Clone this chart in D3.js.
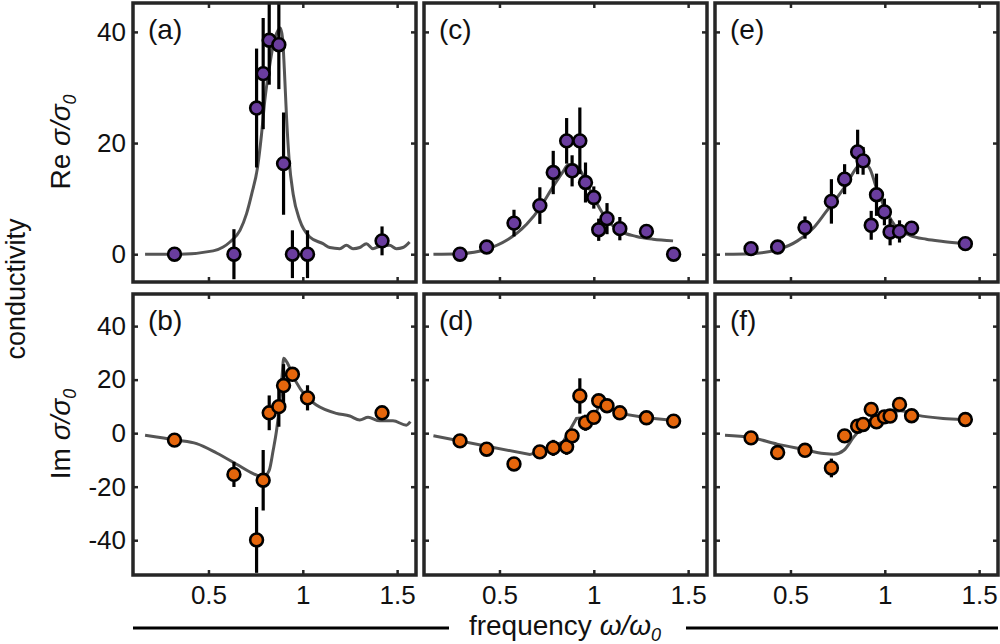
<!DOCTYPE html>
<html>
<head>
<meta charset="utf-8">
<script src="https://cdn.jsdelivr.net/npm/d3@7"></script>
<style>
  body { margin: 0; background: #fff; }
  svg { display: block; font-family: "Liberation Sans", Arial, sans-serif; }
  .tick text { font-size: 26px; fill: #111; }
  .tick line { stroke: #262626; stroke-width: 2.5; }
</style>
</head>
<body>
<div id="chart"></div>
<script>
// x axis (shared by all panels)
const xDomain = [0.1, 1.6];
const xTicks = [0.5, 1, 1.5];
const reDomain = [-5, 45.2];
const reTicks = [0, 20, 40];
const imDomain = [-53, 52];
const imTicks = [-40, -20, 0, 20, 40];

// measured points, panels (a) and (b)
const freqAB = [0.32, 0.635, 0.755, 0.79, 0.822, 0.873, 0.898, 0.945, 1.025, 1.42];
const reA = [0, 0, 26.3, 32.5, 38.5, 37.7, 16.3, 0, 0, 2.4];
const reErrA = [0, 4.5, 10.7, 10, 8, 8, 9.2, 4.3, 4.3, 2.6];
const imB = [-2.6, -15.4, -39.9, -17.6, 7.6, 9.9, 17.8, 22, 13.2, 7.6];
const imErrB = [0, 4.7, 12.3, 11.3, 6.5, 7.5, 8, 2, 4.7, 0];

// measured points, panels (c) and (d)
const freqCD = [0.291, 0.432, 0.577, 0.714, 0.785, 0.856, 0.885, 0.926, 0.956, 1.0, 1.026, 1.07, 1.138, 1.279, 1.423];
const reC = [0, 1.3, 5.6, 8.75, 14.7, 20.4, 15, 20.4, 12.9, 10.2, 4.4, 6.4, 4.6, 4.1, 0];
const reErrC = [0, 0, 2.4, 3.3, 3.9, 4.1, 2.8, 6, 3.6, 2, 2, 2.8, 2.1, 0, 0];
const imD = [-2.9, -6, -11.5, -7, -5.5, -5.1, -1, 13.9, 3.9, 5.9, 12.1, 10.25, 7.6, 5.75, 4.5];
const imErrD = [0, 0, 0, 2, 3, 3, 0, 6.6, 3, 0, 0, 0, 0, 0, 0];

// measured points, panels (e) and (f)
const freqEF = [0.291, 0.432, 0.577, 0.717, 0.787, 0.856, 0.885, 0.928, 0.956, 0.998, 1.028, 1.078, 1.142, 1.427];
const reE = [1, 1.3, 4.8, 9.5, 13.5, 18.4, 16.8, 5.2, 10.7, 7.6, 4, 4.1, 4.7, 1.9];
const reErrE = [0, 0, 2, 4, 2.7, 4, 2.5, 2.6, 3.8, 2.4, 2.4, 2, 0, 0];
const imF = [-1.75, -7.25, -6.4, -13, -1, 2.6, 3.25, 8.9, 4.25, 6.1, 6.4, 10.75, 6.5, 5.1];
const imErrF = [0, 0, 0, 3.5, 0, 1.5, 0, 0, 2, 0, 0, 0, 0, 0];

// model curves
const fitFreqA = [0.164, 0.349, 0.525, 0.578, 0.614, 0.667, 0.702, 0.729, 0.76, 0.781, 0.798, 0.822, 0.843, 0.869, 0.881, 0.893, 0.902, 0.914, 0.928, 0.949, 0.984, 1.037, 1.107, 1.143, 1.196, 1.231, 1.266, 1.302, 1.337, 1.372, 1.407, 1.46, 1.496, 1.531, 1.566];
const fitReA = [0, 0, 0.6, 1.3, 2.2, 4.3, 7.3, 10.8, 15.6, 21.5, 27.5, 33.4, 37.6, 40.3, 40.7, 38.8, 33.4, 24.5, 16.8, 10.8, 6.1, 3.1, 1.9, 1.2, 1.0, 1.6, 1.0, 1.2, 1.9, 1.0, 1.4, 1.6, 1.0, 1.2, 2.2];
const fitFreqB = [0.164, 0.332, 0.437, 0.543, 0.649, 0.737, 0.79, 0.822, 0.843, 0.861, 0.878, 0.89, 0.899, 0.914, 0.958, 1.019, 1.072, 1.178, 1.249, 1.302, 1.346, 1.407, 1.478, 1.549, 1.57];
const fitImB = [-0.75, -2.6, -3.9, -7.4, -11.6, -15.1, -16.4, -13.9, -6.4, 1.1, 11.1, 21.1, 28, 26.7, 19.9, 13.6, 10.5, 7.4, 6.4, 4.9, 5.9, 4.6, 4.6, 3.0, 4.3];
const fitFreqC = [0.15, 0.291, 0.432, 0.538, 0.644, 0.714, 0.785, 0.838, 0.864, 0.891, 0.926, 0.962, 1.014, 1.067, 1.138, 1.226, 1.314, 1.42];
const fitReC = [0, 0.1, 0.9, 2.5, 5.4, 8.3, 12.2, 14.9, 16.1, 16.2, 15.2, 12.8, 9.3, 6.3, 4.2, 3.2, 2.7, 2.4];
const fitFreqD = [0.15, 0.661, 0.714, 0.838, 0.908, 1.0, 1.035, 1.07, 1.138, 1.279, 1.4];
const fitImD = [-1, -8, -6.75, -3.25, 5.5, 6.1, 11.1, 9.9, 7.4, 5.75, 4.9];
const fitFreqE = [0.153, 0.289, 0.43, 0.537, 0.624, 0.69, 0.79, 0.857, 0.884, 0.919, 0.956, 1.009, 1.062, 1.133, 1.22, 1.309, 1.423];
const fitReE = [0, 0.1, 0.8, 2.4, 4.8, 7.7, 12.2, 15.8, 16.4, 15.5, 11.9, 7.7, 4.8, 3.4, 2.7, 2.3, 1.9];
const fitFreqF = [0.153, 0.289, 0.43, 0.571, 0.677, 0.73, 0.783, 0.836, 0.889, 0.959, 1.03, 1.083, 1.171, 1.309, 1.415];
const fitImF = [-0.75, -1.6, -4.1, -6.1, -7.6, -7.9, -6.4, -1.4, 2.6, 5.5, 7.75, 8.4, 6.75, 5.5, 5.1];

const purple = "#6a3d9e";
const orange = "#e5660c";

const panels = [
  {label: "(a)", col: 0, row: 0, freq: freqAB, val: reA, err: reErrA, fx: fitFreqA, fy: fitReA, color: purple},
  {label: "(b)", col: 0, row: 1, freq: freqAB, val: imB, err: imErrB, fx: fitFreqB, fy: fitImB, color: orange},
  {label: "(c)", col: 1, row: 0, freq: freqCD, val: reC, err: reErrC, fx: fitFreqC, fy: fitReC, color: purple},
  {label: "(d)", col: 1, row: 1, freq: freqCD, val: imD, err: imErrD, fx: fitFreqD, fy: fitImD, color: orange, linear: true},
  {label: "(e)", col: 2, row: 0, freq: freqEF, val: reE, err: reErrE, fx: fitFreqE, fy: fitReE, color: purple},
  {label: "(f)", col: 2, row: 1, freq: freqEF, val: imF, err: imErrF, fx: fitFreqF, fy: fitImF, color: orange}
];

const width = 1000, height = 644;
const colX = [133, 424, 715];
const panelW = 283;
const rowY = [3, 294];
const rowH = [279, 281];

const svg = d3.select("#chart").append("svg")
  .attr("width", width)
  .attr("height", height);

panels.forEach((p, i) => {
  const x0 = colX[p.col], y0 = rowY[p.row];
  const w = panelW, h = rowH[p.row];

  const x = d3.scaleLinear().domain(xDomain).range([0, w]);
  const y = d3.scaleLinear().domain(p.row === 0 ? reDomain : imDomain).range([h, 0]);
  const yTicks = p.row === 0 ? reTicks : imTicks;

  const g = svg.append("g").attr("transform", `translate(${x0},${y0})`);

  g.append("clipPath").attr("id", "clip" + i)
    .append("rect").attr("width", w).attr("height", h);

  const plot = g.append("g").attr("clip-path", `url(#clip${i})`);

  // model curve
  const line = d3.line()
    .x(d => x(d[0]))
    .y(d => y(d[1]))
    .curve(p.linear ? d3.curveLinear : d3.curveMonotoneX);

  plot.append("path")
    .datum(p.fx.map((f, k) => [f, p.fy[k]]))
    .attr("d", line)
    .attr("fill", "none")
    .attr("stroke", "#555")
    .attr("stroke-width", 3);

  const pts = p.freq.map((f, k) => ({f: f, v: p.val[k], e: p.err[k]}));

  // error bars
  plot.selectAll(".err").data(pts.filter(d => d.e > 0)).join("line")
    .attr("class", "err")
    .attr("x1", d => x(d.f)).attr("x2", d => x(d.f))
    .attr("y1", d => y(d.v - d.e)).attr("y2", d => y(d.v + d.e))
    .attr("stroke", "#000")
    .attr("stroke-width", 3.2);

  // data points
  plot.selectAll(".pt").data(pts).join("circle")
    .attr("class", "pt")
    .attr("cx", d => x(d.f))
    .attr("cy", d => y(d.v))
    .attr("r", 6.4)
    .attr("fill", p.color)
    .attr("stroke", "#000")
    .attr("stroke-width", 2.6);

  // axes with inward ticks
  const showY = p.col === 0;
  const showX = p.row === 1;

  const axL = g.append("g").call(d3.axisLeft(y).tickValues(yTicks).tickSize(-5).tickPadding(7)
    .tickFormat(showY ? (d => String(d)) : () => ""));
  const axR = g.append("g").attr("transform", `translate(${w},0)`)
    .call(d3.axisRight(y).tickValues(yTicks).tickSize(-5).tickFormat(() => ""));
  const axT = g.append("g").call(d3.axisTop(x).tickValues(xTicks).tickSize(-5).tickFormat(() => ""));
  const axB = g.append("g").attr("transform", `translate(0,${h})`)
    .call(d3.axisBottom(x).tickValues(xTicks).tickSize(-5).tickPadding(11)
      .tickFormat(showX ? (d => String(d)) : () => ""));

  [axL, axR, axT, axB].forEach(a => {
    a.select(".domain").remove();
    a.selectAll("text").attr("font-family", null).attr("font-size", null);
  });

  // frame
  g.append("rect")
    .attr("width", w).attr("height", h)
    .attr("fill", "none")
    .attr("stroke", "#262626")
    .attr("stroke-width", 3.5);

  g.append("text")
    .attr("x", 15).attr("y", 36)
    .attr("font-size", 28)
    .attr("fill", "#111")
    .text(p.label);
});

// axis titles
function sigmaLabel(sel, prefix) {
  sel.append("tspan").text(prefix);
  sel.append("tspan").attr("font-style", "italic").text("σ/σ");
  sel.append("tspan").attr("font-style", "italic").attr("font-size", 18).attr("dy", 6).text("0");
}

svg.append("text")
  .attr("transform", "translate(25,289) rotate(-90)")
  .attr("text-anchor", "middle")
  .attr("font-size", 27)
  .attr("fill", "#111")
  .text("conductivity");

svg.append("text")
  .attr("transform", "translate(70,142) rotate(-90)")
  .attr("text-anchor", "middle")
  .attr("font-size", 28)
  .attr("fill", "#111")
  .call(sigmaLabel, "Re ");

svg.append("text")
  .attr("transform", "translate(70,434) rotate(-90)")
  .attr("text-anchor", "middle")
  .attr("font-size", 28)
  .attr("fill", "#111")
  .call(sigmaLabel, "Im ");

const xTitle = svg.append("text")
  .attr("x", 565).attr("y", 635)
  .attr("text-anchor", "middle")
  .attr("font-size", 28)
  .attr("fill", "#111");
xTitle.append("tspan").text("frequency ");
xTitle.append("tspan").attr("font-style", "italic").text("ω/ω");
xTitle.append("tspan").attr("font-style", "italic").attr("font-size", 18).attr("dy", 6).text("0");

svg.append("line").attr("x1", 133).attr("x2", 449).attr("y1", 628).attr("y2", 628)
  .attr("stroke", "#000").attr("stroke-width", 3);
svg.append("line").attr("x1", 686).attr("x2", 998).attr("y1", 628).attr("y2", 628)
  .attr("stroke", "#000").attr("stroke-width", 3);
</script>
</body>
</html>
